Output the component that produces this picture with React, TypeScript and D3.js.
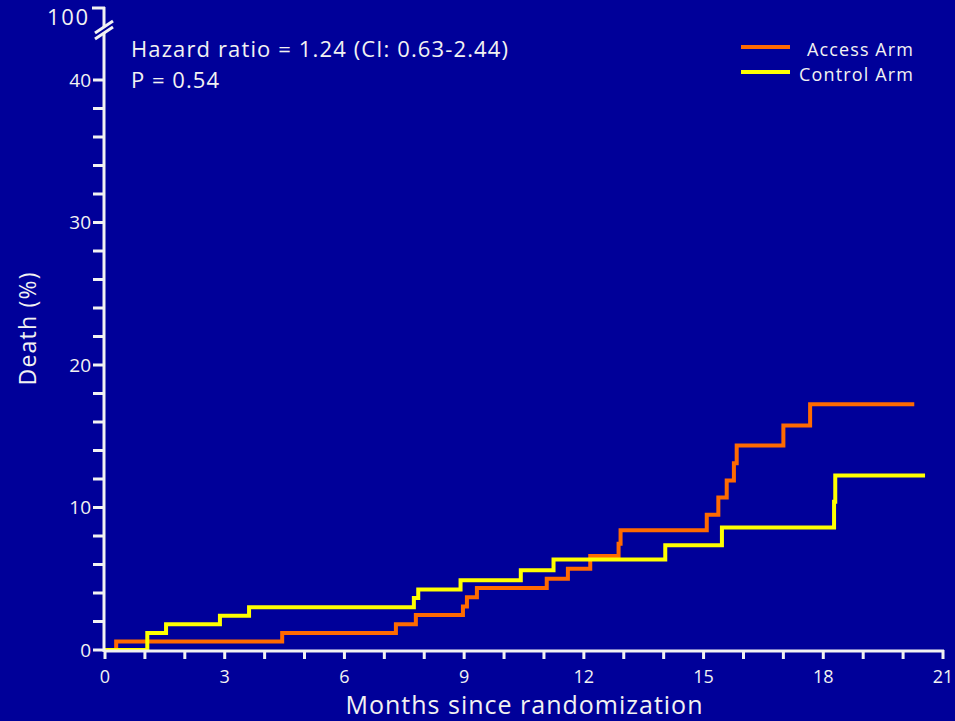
import React from "react";
import * as d3 from "d3";

// Cumulative death (%) step curves, months since randomization
const accessMonths = [0, 0.28, 4.44, 7.29, 7.79, 8.97, 9.07, 9.32, 11.07, 11.6, 12.16, 12.87, 12.92, 15.08, 15.37, 15.58, 15.76, 15.83, 17.0, 17.67, 20.28];
const accessDeath = [0, 0.6, 1.2, 1.8, 2.45, 3.05, 3.7, 4.35, 5.0, 5.7, 6.6, 7.45, 8.4, 9.5, 10.7, 11.9, 13.1, 14.35, 15.75, 17.25, 17.25];

const controlMonths = [0, 1.06, 1.53, 2.88, 3.61, 7.74, 7.85, 8.91, 10.42, 11.24, 14.04, 15.46, 18.27, 18.3, 20.55];
const controlDeath = [0, 1.2, 1.8, 2.4, 3.0, 3.65, 4.25, 4.9, 5.6, 6.35, 7.35, 8.6, 10.4, 12.25, 12.25];

const xMajorTicks = [0, 3, 6, 9, 12, 15, 18, 21];
const yMajorTicks = [0, 10, 20, 30, 40];
const seriesNames = ["Access Arm", "Control Arm"];
const seriesColors = ["#ff6a00", "#ffff00"];
const legendWidths = [106, 114];
const statLines = ["Hazard ratio = 1.24 (CI: 0.63-2.44)", "P = 0.54"];
const statWidths = [377, 88];

const W = 955;
const H = 721;
const BG = "#000099";
const FG = "#f2f2f2";
const FONT = "'Open Sans', sans-serif";

export default function App() {
  const x = d3.scaleLinear().domain([0, 21]).range([105, 943]);
  const y = d3.scaleLinear().domain([0, 40]).range([650, 80]);
  const yTop = 8; // position of the broken-axis 100% tick

  const line = d3
    .line<[number, number]>()
    .x((d) => x(d[0]))
    .y((d) => y(d[1]))
    .curve(d3.curveStepAfter);

  const access = accessMonths.map((m, i) => [m, accessDeath[i]] as [number, number]);
  const control = controlMonths.map((m, i) => [m, controlDeath[i]] as [number, number]);

  const xMinor = d3.range(0, 22, 1);
  const yMinor = d3.range(0, 41, 2);
  const axisX = x(0) - 1;

  return (
    <svg width={W} height={H} style={{ display: "block", position: "absolute", left: 0, top: 0 }}>
      <rect x={0} y={0} width={W} height={H} fill={BG} />

      {/* curves */}
      <path d={line(access) || ""} fill="none" stroke={seriesColors[0]} strokeWidth={4} />
      <path d={line(control) || ""} fill="none" stroke={seriesColors[1]} strokeWidth={4} />

      {/* x axis */}
      <line x1={axisX} x2={x(21) + 1} y1={y(0) + 1} y2={y(0) + 1} stroke={FG} strokeWidth={3} />
      {xMinor.map((t) => (
        <line key={"xm" + t} x1={x(t)} x2={x(t)} y1={y(0)} y2={y(0) + 9} stroke={FG} strokeWidth={3} />
      ))}
      {xMajorTicks.map((t) => (
        <text key={"xl" + t} x={x(t)} y={683} fill={FG} fontFamily={FONT} fontSize={18} textAnchor="middle">
          {t}
        </text>
      ))}

      {/* y axis with break */}
      <line x1={axisX} x2={axisX} y1={y(0) + 2} y2={yTop - 1} stroke={FG} strokeWidth={3} />
      {yMinor.map((t) => (
        <line key={"ym" + t} x1={axisX - 11} x2={axisX} y1={y(t)} y2={y(t)} stroke={FG} strokeWidth={3} />
      ))}
      <line x1={axisX - 12} x2={axisX + 1} y1={yTop} y2={yTop} stroke={FG} strokeWidth={3} />
      {/* break marks */}
      <polygon
        points={`${axisX - 8},${38} ${axisX + 8},${27} ${axisX + 8},${21} ${axisX - 8},${32}`}
        fill={BG}
      />
      <line x1={axisX - 9} x2={axisX + 9} y1={39} y2={27} stroke={FG} strokeWidth={3} />
      <line x1={axisX - 9} x2={axisX + 9} y1={33} y2={21} stroke={FG} strokeWidth={3} />

      {yMajorTicks.map((t) => (
        <text key={"yl" + t} x={91} y={y(t)} dy="0.36em" fill={FG} fontFamily={FONT} fontSize={19} textAnchor="end">
          {t}
        </text>
      ))}
      <text x={88} y={17} dy="0.36em" fill={FG} fontFamily={FONT} fontSize={22} textAnchor="end"
        textLength={41} lengthAdjust="spacing">
        100
      </text>

      {/* axis titles */}
      <text x={524} y={714} fill={FG} fontFamily={FONT} fontSize={25} textAnchor="middle"
        textLength={357} lengthAdjust="spacing">
        Months since randomization
      </text>
      <text
        transform={`translate(36,329) rotate(-90)`}
        fill={FG}
        fontFamily={FONT}
        fontSize={23}
        textAnchor="middle"
        textLength={113}
        lengthAdjust="spacing"
      >
        Death (%)
      </text>

      {/* statistics */}
      {statLines.map((s, i) => (
        <text key={s} x={131} y={57 + i * 31} fill={FG} fontFamily={FONT} fontSize={22}
          textLength={statWidths[i]} lengthAdjust="spacing">
          {s}
        </text>
      ))}

      {/* legend */}
      {seriesNames.map((name, i) => (
        <g key={name}>
          <line x1={741} x2={790} y1={47 + i * 25} y2={47 + i * 25} stroke={seriesColors[i]} strokeWidth={4} />
          <text x={913 - legendWidths[i]} y={56 + i * 25} fill={FG} fontFamily={FONT} fontSize={18}
            textLength={legendWidths[i]} lengthAdjust="spacing">
            {name}
          </text>
        </g>
      ))}
    </svg>
  );
}
